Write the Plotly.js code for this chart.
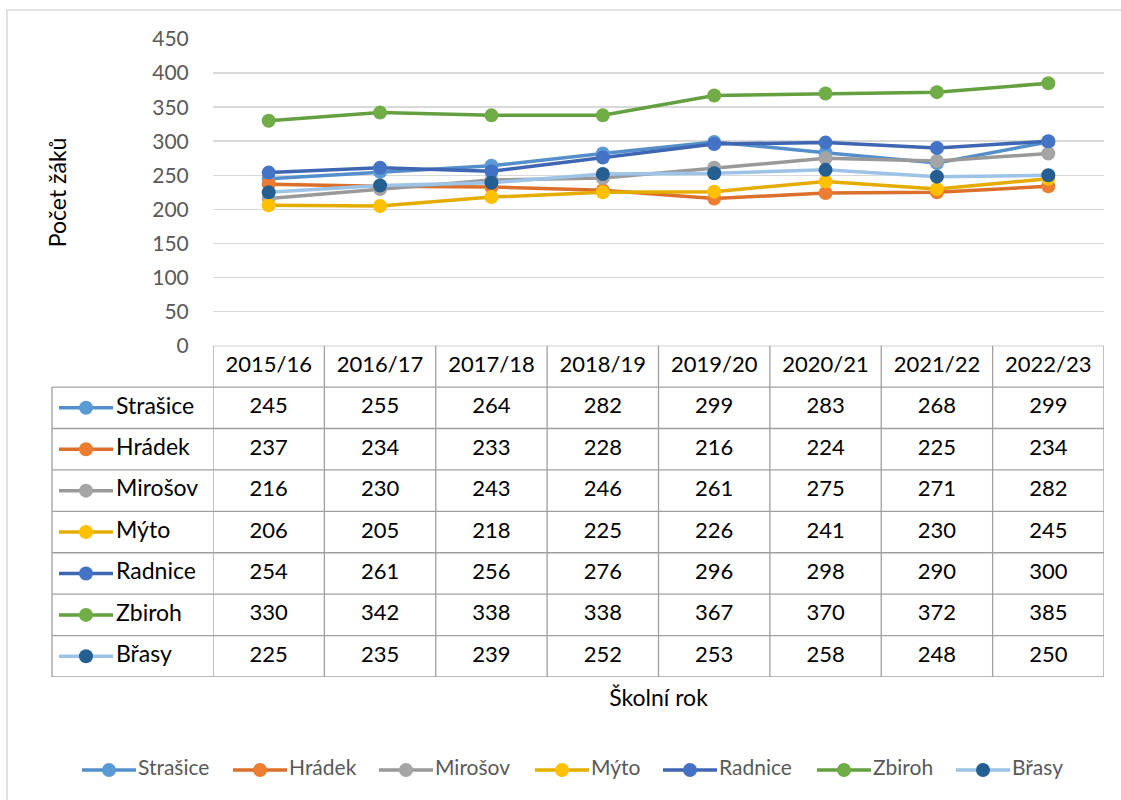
<!DOCTYPE html>
<html><head><meta charset="utf-8">
<script src="https://cdn.plot.ly/plotly-3.0.1.min.js"></script>
<style>html,body{margin:0;padding:0;background:#fff}#chart{width:1121px;height:800px}</style>
</head><body><div id="chart"></div>
<script>
// ---- data ----
const years = ['2015/16','2016/17','2017/18','2018/19','2019/20','2020/21','2021/22','2022/23'];
const strasice = [245,255,264,282,299,283,268,299];
const hradek   = [237,234,233,228,216,224,225,234];
const mirosov  = [216,230,243,246,261,275,271,282];
const myto     = [206,205,218,225,226,241,230,245];
const radnice  = [254,261,256,276,296,298,290,300];
const zbiroh   = [330,342,338,338,367,370,372,385];
const brasy    = [225,235,239,252,253,258,248,250];
const seriesNames = ['Strašice','Hrádek','Mirošov','Mýto','Radnice','Zbiroh','Břasy'];
const seriesValues = [strasice,hradek,mirosov,myto,radnice,zbiroh,brasy];

// ---- styles ----
const markerColors = ['#5B9BD5','#ED7D31','#A5A5A5','#FFC000','#4472C4','#70AD47','#255E91'];
const lineColors   = ['#548FCB','#DC6F2A','#999999','#E5AC00','#3F66B3','#64A03F','#9DC3E6'];
const FONT = 'Lato, "Open Sans", sans-serif';
const W = 1121, H = 800;
const px = v => v / W, py = v => 1 - v / H;
const plotTop = 39, plotBottom = 345.7, colLeft = 213, colRight = 1104, tableLeft = 52, tableBottom = 677;
const legendStarts = [82, 233, 379, 535, 663, 817, 956];
const gridCol = '#A0A0A0';

const traces = [];
// main lines
seriesNames.forEach((name, k) => {
  traces.push({type:'scatter', mode:'lines+markers', name, x: years, y: seriesValues[k],
    xaxis:'x', yaxis:'y', line:{color: lineColors[k], width:3.5},
    marker:{color: markerColors[k], size:14}, showlegend:false});
});
// table header
traces.push({type:'scatter', mode:'text', x: years, y: years.map(() => 0), text: years,
  xaxis:'x2', yaxis:'y2', textfont:{family:FONT, size:22, color:'#000'}, textposition:'middle center',
  hoverinfo:'skip', showlegend:false});
// table values + row keys
seriesNames.forEach((name, k) => {
  const row = k + 1;
  traces.push({type:'scatter', mode:'text', x: years, y: years.map(() => row),
    text: seriesValues[k].map(String), xaxis:'x2', yaxis:'y2',
    textfont:{family:FONT, size:22, color:'#000'}, textposition:'middle center', hoverinfo:'skip', showlegend:false});
  traces.push({type:'scatter', mode:'lines', x:[59,113], y:[row,row], xaxis:'x3', yaxis:'y2',
    line:{color: lineColors[k], width:3.5}, hoverinfo:'skip', showlegend:false});
  traces.push({type:'scatter', mode:'markers', x:[86], y:[row], xaxis:'x3', yaxis:'y2',
    marker:{color: markerColors[k], size:14}, hoverinfo:'skip', showlegend:false});
  traces.push({type:'scatter', mode:'text', x:[116], y:[row], text:[name], xaxis:'x3', yaxis:'y2',
    textfont:{family:FONT, size:23, color:'#000'}, textposition:'middle right', hoverinfo:'skip', showlegend:false});
  // bottom legend
  const s = legendStarts[k];
  traces.push({type:'scatter', mode:'lines', x:[s, s+54], y:[770,770], xaxis:'x3', yaxis:'y3',
    line:{color: lineColors[k], width:3.5}, hoverinfo:'skip', showlegend:false});
  traces.push({type:'scatter', mode:'markers', x:[s+27], y:[770], xaxis:'x3', yaxis:'y3',
    marker:{color: markerColors[k], size:14}, hoverinfo:'skip', showlegend:false});
  traces.push({type:'scatter', mode:'text', x:[s+56], y:[770], text:[name], xaxis:'x3', yaxis:'y3',
    textfont:{family:FONT, size:21, color:'#595959'}, textposition:'middle right', hoverinfo:'skip', showlegend:false});
});

// table grid shapes
const shapes = [];
const ln = {color: gridCol, width:1.3};
for (let i = 0; i <= years.length; i++) {
  shapes.push({type:'line', xref:'x2', yref:'y2', x0:i-0.5, x1:i-0.5, y0:-0.5, y1:seriesNames.length+0.5, line:ln});
}
shapes.push({type:'line', xref:'x3', yref:'y2', x0:tableLeft, x1:tableLeft, y0:0.5, y1:seriesNames.length+0.5, line:ln});
shapes.push({type:'line', xref:'x2', yref:'y2', x0:-0.5, x1:years.length-0.5, y0:-0.5, y1:-0.5, line:ln});
for (let r = 0; r <= seriesNames.length; r++) {
  shapes.push({type:'line', xref:'x3', yref:'y2', x0:tableLeft, x1:colRight, y0:r+0.5, y1:r+0.5, line:ln});
}
// chart area border
shapes.push({type:'rect', xref:'paper', yref:'paper', x0:px(7), x1:px(1135), y0:py(10), y1:py(815),
  line:{color:'#D9D9D9', width:1.5}, fillcolor:'rgba(0,0,0,0)'});

const layout = {
  width:W, height:H, margin:{l:0,r:0,t:0,b:0}, paper_bgcolor:'#fff', plot_bgcolor:'rgba(0,0,0,0)',
  showlegend:false, font:{family:FONT},
  xaxis:{domain:[px(colLeft), px(colRight)], anchor:'y', type:'category', range:[-0.5, years.length-0.5],
    showticklabels:false, showgrid:false, zeroline:false, showline:false, ticks:''},
  yaxis:{domain:[py(plotBottom), py(plotTop)], anchor:'x', range:[0,450], dtick:50, tick0:0,
    showgrid:true, gridcolor:'#D9D9D9', gridwidth:1.5, zeroline:false, showline:false,
    ticks:'outside', ticklen:19, tickcolor:'rgba(0,0,0,0)',
    tickfont:{family:FONT, size:21, color:'#595959'},
    title:{text:'Počet žáků', font:{family:FONT, size:23, color:'#000'}, standoff:79}},
  xaxis2:{domain:[px(colLeft), px(colRight)], anchor:'y2', type:'category', range:[-0.5, years.length-0.5],
    showticklabels:false, showgrid:false, zeroline:false, showline:false, ticks:'',
    title:{text:'Školní rok', font:{family:FONT, size:23, color:'#000'}, standoff:12}},
  yaxis2:{domain:[py(tableBottom), py(plotBottom)], anchor:'x2', range:[seriesNames.length+0.5, -0.5], visible:false},
  xaxis3:{domain:[0,1], anchor:'y3', range:[0,W], visible:false},
  yaxis3:{domain:[0,1], anchor:'x3', range:[H,0], visible:false},
  shapes
};
Plotly.newPlot('chart', traces, layout, {staticPlot:true, displayModeBar:false});
</script></body></html>
